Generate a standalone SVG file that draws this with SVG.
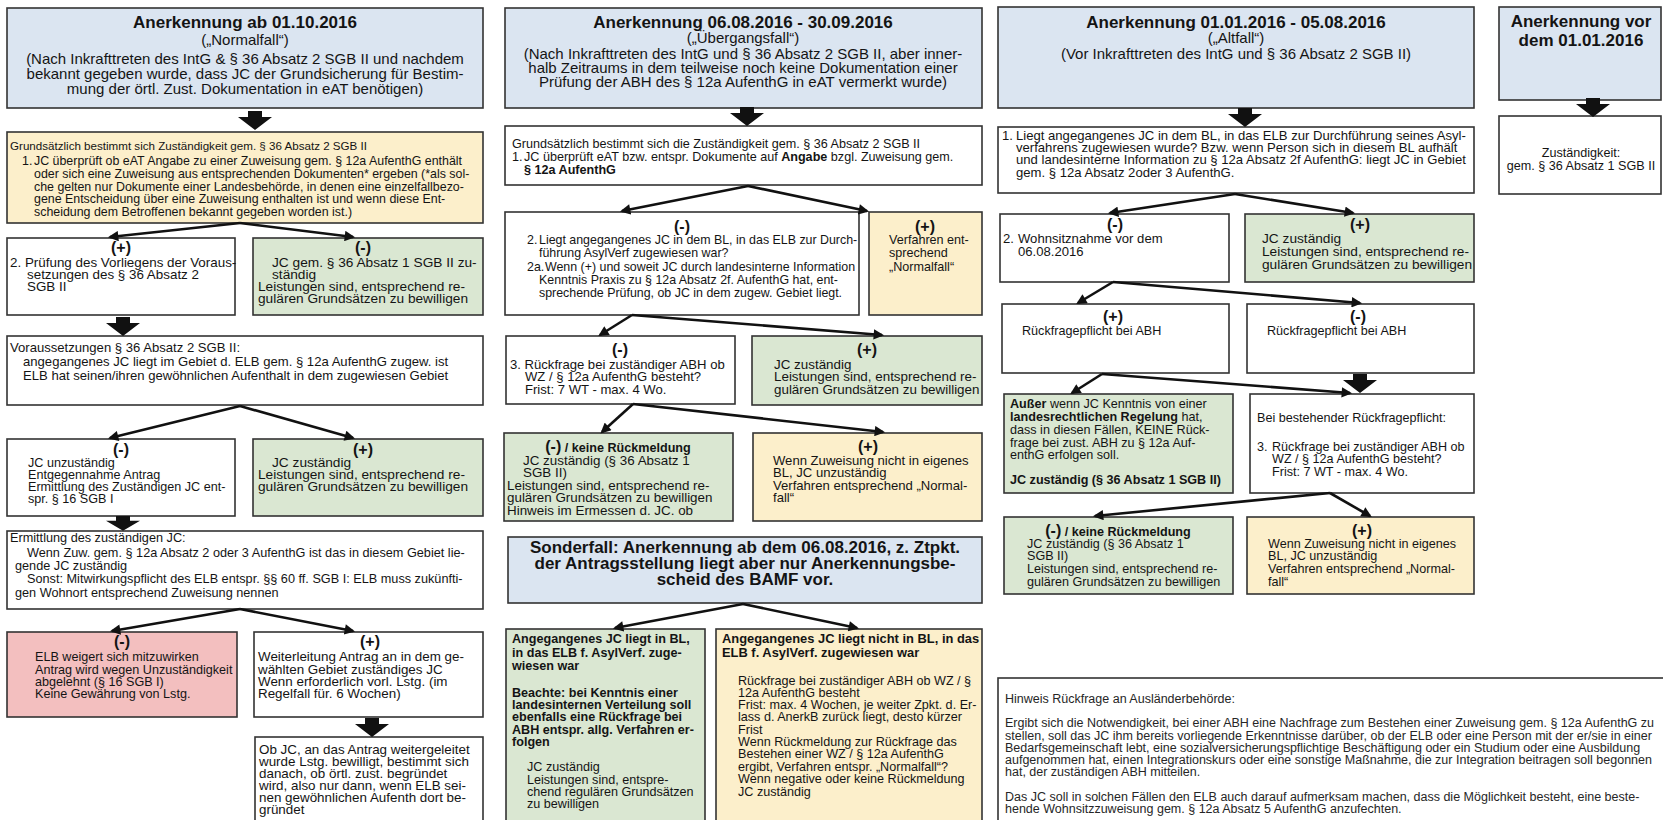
<svg xmlns="http://www.w3.org/2000/svg" width="1663" height="820" viewBox="0 0 1663 820">
<style>
text{font-family:"Liberation Sans",Arial,sans-serif;font-size:12.6px;fill:#141414}
.b{font-weight:bold}
.h{font-size:15px}
.ti{font-size:17px;font-weight:bold}
.s{font-size:16px;font-weight:bold}
.c{text-anchor:middle}
.f124{font-size:12.4px}
.f13{font-size:13.1px}
.f134{font-size:13.4px}
.f137{font-size:13.7px}
.box{stroke:#333;stroke-width:1.6}
.blue{fill:#dbe5f1}
.yel{fill:#fcefcb}
.grn{fill:#dae7d2}
.red{fill:#f3bfbf}
.wht{fill:#fff}
.con{stroke:#111;stroke-width:2.6;fill:none;marker-end:url(#ah)}
.fn{font-size:12.5px;fill:#262626}
</style>
<defs>
<marker id="ah" viewBox="0 0 10 10" refX="8" refY="5" markerWidth="4.4" markerHeight="4" orient="auto" markerUnits="strokeWidth"><path d="M0,0 L10,5 L0,10 z" fill="#111"/></marker>
<path id="big" d="M-7,0 H7 V6 H17 L0,19 L-17,6 H-7 Z" fill="#111"/>
</defs>
<rect width="1663" height="820" fill="#fff"/>

<!-- Column 1 -->
<g id="n1"><rect class="box blue" x="7" y="8" width="476" height="100"/>
<text class="ti c" x="245" y="28">Anerkennung ab 01.10.2016</text>
<text class="h c"><tspan x="245" y="45">(„Normalfall“)</tspan><tspan x="245" y="64">(Nach Inkrafttreten des IntG &amp; § 36 Absatz 2 SGB II und nachdem</tspan><tspan x="245" y="79">bekannt gegeben wurde, dass JC der Grundsicherung für Bestim-</tspan><tspan x="245" y="94">mung der örtl. Zust. Dokumentation in eAT benötigen)</tspan></text></g>

<g id="n2"><rect class="box yel" x="7" y="132" width="476" height="91"/>
<text style="font-size:11.6px" x="10" y="150">Grundsätzlich bestimmt sich Zuständigkeit gem. § 36 Absatz 2 SGB II</text>
<text class="f124"><tspan x="22" y="165">1.</tspan><tspan x="34" y="165">JC überprüft ob eAT Angabe zu einer Zuweisung gem. § 12a AufenthG enthält</tspan><tspan x="34" y="178">oder sich eine Zuweisung aus entsprechenden Dokumenten* ergeben (*als sol-</tspan><tspan x="34" y="191">che gelten nur Dokumente einer Landesbehörde, in denen eine einzelfallbezo-</tspan><tspan x="34" y="203">gene Entscheidung über eine Zuweisung enthalten ist und wenn diese Ent-</tspan><tspan x="34" y="216">scheidung dem Betroffenen bekannt gegeben worden ist.)</tspan></text></g>

<g id="n3"><rect class="box wht" x="7" y="238" width="228" height="77"/>
<text class="s c" x="121" y="253">(+)</text>
<text class="f134"><tspan x="10" y="267">2. Prüfung des Vorliegens der Voraus-</tspan><tspan x="27" y="279">setzungen des § 36 Absatz 2</tspan><tspan x="27" y="291">SGB II</tspan></text></g>

<g id="n4"><rect class="box grn" x="253" y="238" width="230" height="77"/>
<text class="s c" x="363" y="253">(-)</text>
<text class="f137"><tspan x="272" y="267">JC gem. § 36 Absatz 1 SGB II zu-</tspan><tspan x="272" y="279">ständig</tspan><tspan x="258" y="291">Leistungen sind, entsprechend re-</tspan><tspan x="258" y="303">gulären Grundsätzen zu bewilligen</tspan></text></g>

<g id="n5"><rect class="box wht" x="7" y="336" width="476" height="69"/>
<text class="f13"><tspan x="10" y="352">Voraussetzungen § 36 Absatz 2 SGB II:</tspan><tspan x="23" y="366">angegangenes JC liegt im Gebiet d. ELB gem. § 12a AufenthG zugew. ist</tspan><tspan x="23" y="380">ELB hat seinen/ihren gewöhnlichen Aufenthalt in dem zugewiesen Gebiet</tspan></text></g>

<g id="n6"><rect class="box wht" x="7" y="439" width="228" height="77"/>
<text class="s c" x="121" y="455">(-)</text>
<text><tspan x="28" y="467">JC unzuständig</tspan><tspan x="28" y="479">Entgegennahme Antrag</tspan><tspan x="28" y="491">Ermittlung des Zuständigen JC ent-</tspan><tspan x="28" y="503">spr. § 16 SGB I</tspan></text></g>

<g id="n7"><rect class="box grn" x="253" y="439" width="230" height="77"/>
<text class="s c" x="363" y="455">(+)</text>
<text class="f137"><tspan x="272" y="467">JC zuständig</tspan><tspan x="258" y="479">Leistungen sind, entsprechend re-</tspan><tspan x="258" y="491">gulären Grundsätzen zu bewilligen</tspan></text></g>

<g id="n8"><rect class="box wht" x="7" y="531" width="476" height="78"/>
<text style="font-size:12.7px"><tspan x="10" y="542">Ermittlung des zuständigen JC:</tspan><tspan x="27" y="557">Wenn Zuw. gem. § 12a Absatz 2 oder 3 AufenthG ist das in diesem Gebiet lie-</tspan><tspan x="15" y="570">gende JC zuständig</tspan><tspan x="27" y="583">Sonst: Mitwirkungspflicht des ELB entspr. §§ 60 ff. SGB I: ELB muss zukünfti-</tspan><tspan x="15" y="597">gen Wohnort entsprechend Zuweisung nennen</tspan></text></g>

<g id="n9"><rect class="box red" x="7" y="632" width="230" height="85"/>
<text class="s c" x="122" y="647">(-)</text>
<text><tspan x="35" y="661">ELB weigert sich mitzuwirken</tspan><tspan x="35" y="674">Antrag wird wegen Unzuständigkeit</tspan><tspan x="35" y="686">abgelehnt (§ 16 SGB I)</tspan><tspan x="35" y="698">Keine Gewährung von Lstg.</tspan></text></g>

<g id="n10"><rect class="box wht" x="254" y="632" width="229" height="85"/>
<text class="s c" x="370" y="647">(+)</text>
<text class="f134"><tspan x="258" y="661">Weiterleitung Antrag an in dem ge-</tspan><tspan x="258" y="674">wählten Gebiet zuständiges JC</tspan><tspan x="258" y="686">Wenn erforderlich vorl. Lstg. (im</tspan><tspan x="258" y="698">Regelfall für. 6 Wochen)</tspan></text></g>

<g id="n11"><rect class="box wht" x="255" y="737" width="228" height="100"/>
<text class="f134"><tspan x="259" y="754">Ob JC, an das Antrag weitergeleitet</tspan><tspan x="259" y="766">wurde Lstg. bewilligt, bestimmt sich</tspan><tspan x="259" y="778">danach, ob örtl. zust. begründet</tspan><tspan x="259" y="790">wird, also nur dann, wenn ELB sei-</tspan><tspan x="259" y="802">nen gewöhnlichen Aufenth dort be-</tspan><tspan x="259" y="814">gründet</tspan></text></g>

<!-- Column 2 -->
<g id="m1"><rect class="box blue" x="505" y="8" width="477" height="100"/>
<text class="ti c" x="743" y="28">Anerkennung 06.08.2016 - 30.09.2016</text>
<text class="h c"><tspan x="743" y="43">(„Übergangsfall“)</tspan><tspan x="743" y="59">(Nach Inkrafttreten des IntG und § 36 Absatz 2 SGB II, aber inner-</tspan><tspan x="743" y="73">halb Zeitraums in dem teilweise noch keine Dokumentation einer</tspan><tspan x="743" y="87">Prüfung der ABH des § 12a AufenthG in eAT vermerkt wurde)</tspan></text></g>

<g id="m2"><rect class="box wht" x="505" y="126" width="477" height="59"/>
<text x="512" y="148">Grundsätzlich bestimmt sich die Zuständigkeit gem. § 36 Absatz 2 SGB II</text>
<text x="512" y="161">1.</text>
<text x="524" y="161">JC überprüft eAT bzw. entspr. Dokumente auf <tspan class="b">Angabe</tspan> bzgl. Zuweisung gem.</text>
<text class="b" x="524" y="174">§ 12a AufenthG</text></g>

<g id="m3"><rect class="box wht" x="505" y="212" width="354" height="103"/>
<text class="s c" x="682" y="232">(-)</text>
<text style="font-size:12.4px"><tspan x="527" y="244">2.</tspan><tspan x="539" y="244">Liegt angegangenes JC in dem BL, in das ELB zur Durch-</tspan><tspan x="539" y="257">führung AsylVerf zugewiesen war?</tspan><tspan x="527" y="271">2a.</tspan><tspan x="545" y="271">Wenn (+) und soweit JC durch landesinterne Information</tspan><tspan x="539" y="284">Kenntnis Praxis zu § 12a Absatz 2f. AufenthG hat, ent-</tspan><tspan x="539" y="297">sprechende Prüfung, ob JC in dem zugew. Gebiet liegt.</tspan></text></g>

<g id="m4"><rect class="box yel" x="869" y="212" width="113" height="103"/>
<text class="s c" x="925" y="232">(+)</text>
<text><tspan x="889" y="244">Verfahren ent-</tspan><tspan x="889" y="257">sprechend</tspan><tspan x="889" y="271">„Normalfall“</tspan></text></g>

<g id="m5"><rect class="box wht" x="506" y="336" width="229" height="68"/>
<text class="s c" x="620" y="355">(-)</text>
<text class="f13"><tspan x="510" y="369">3. Rückfrage bei zuständiger ABH ob</tspan><tspan x="525" y="381">WZ / § 12a AufenthG besteht?</tspan><tspan x="525" y="394">Frist: 7 WT - max. 4 Wo.</tspan></text></g>

<g id="m6"><rect class="box grn" x="752" y="336" width="230" height="69"/>
<text class="s c" x="867" y="355">(+)</text>
<text class="f134"><tspan x="774" y="369">JC zuständig</tspan><tspan x="774" y="381">Leistungen sind, entsprechend re-</tspan><tspan x="774" y="394">gulären Grundsätzen zu bewilligen</tspan></text></g>

<g id="m7"><rect class="box grn" x="504" y="433" width="229" height="88"/>
<text class="c b" x="618" y="452"><tspan font-size="16">(-)</tspan> / keine Rückmeldung</text>
<text class="f134"><tspan x="523" y="465">JC zuständig (§ 36 Absatz 1</tspan><tspan x="523" y="477">SGB II)</tspan><tspan x="507" y="490">Leistungen sind, entsprechend re-</tspan><tspan x="507" y="502">gulären Grundsätzen zu bewilligen</tspan><tspan x="507" y="515">Hinweis im Ermessen d. JC. ob</tspan></text></g>

<g id="m8"><rect class="box yel" x="753" y="433" width="229" height="88"/>
<text class="s c" x="868" y="452">(+)</text>
<text class="f13"><tspan x="773" y="465">Wenn Zuweisung nicht in eigenes</tspan><tspan x="773" y="477">BL, JC unzuständig</tspan><tspan x="773" y="490">Verfahren entsprechend „Normal-</tspan><tspan x="773" y="502">fall“</tspan></text></g>

<g id="m9"><rect class="box blue" x="508" y="537" width="474" height="66"/>
<text class="ti c"><tspan x="745" y="553">Sonderfall: Anerkennung ab dem 06.08.2016, z. Ztpkt.</tspan><tspan x="745" y="569">der Antragsstellung liegt aber nur Anerkennungsbe-</tspan><tspan x="745" y="585">scheid des BAMF vor.</tspan></text></g>

<g id="m10"><rect class="box grn" x="506" y="629" width="199" height="210"/>
<text class="b"><tspan x="512" y="643">Angegangenes JC liegt in BL,</tspan><tspan x="512" y="657">in das ELB f. AsylVerf. zuge-</tspan><tspan x="512" y="670">wiesen war</tspan><tspan x="512" y="697">Beachte: bei Kenntnis einer</tspan><tspan x="512" y="709">landesinternen Verteilung soll</tspan><tspan x="512" y="721">ebenfalls eine Rückfrage bei</tspan><tspan x="512" y="734">ABH entspr. allg. Verfahren er-</tspan><tspan x="512" y="746">folgen</tspan></text>
<text><tspan x="527" y="771">JC zuständig</tspan><tspan x="527" y="784">Leistungen sind, entspre-</tspan><tspan x="527" y="796">chend regulären Grundsätzen</tspan><tspan x="527" y="808">zu bewilligen</tspan></text></g>

<g id="m11"><rect class="box yel" x="716" y="629" width="266" height="210"/>
<text class="b" style="font-size:12.9px"><tspan x="722" y="643">Angegangenes JC liegt nicht in BL, in das</tspan><tspan x="722" y="657">ELB f. AsylVerf. zugewiesen war</tspan></text>
<text><tspan x="738" y="685">Rückfrage bei zuständiger ABH ob WZ / §</tspan><tspan x="738" y="697">12a AufenthG besteht</tspan><tspan x="738" y="709">Frist: max. 4 Wochen, je weiter Zpkt. d. Er-</tspan><tspan x="738" y="721">lass d. AnerkB zurück liegt, desto kürzer</tspan><tspan x="738" y="734">Frist</tspan><tspan x="738" y="746">Wenn Rückmeldung zur Rückfrage das</tspan><tspan x="738" y="758">Bestehen einer WZ / § 12a AufenthG</tspan><tspan x="738" y="771">ergibt, Verfahren entspr. „Normalfall“?</tspan><tspan x="738" y="783">Wenn negative oder keine Rückmeldung</tspan><tspan x="738" y="796">JC zuständig</tspan></text></g>

<!-- Column 3 -->
<g id="k1"><rect class="box blue" x="998" y="7" width="476" height="101"/>
<text class="ti c" x="1236" y="28">Anerkennung 01.01.2016 - 05.08.2016</text>
<text class="h c"><tspan x="1236" y="43">(„Altfall“)</tspan><tspan x="1236" y="59">(Vor Inkrafttreten des IntG und § 36 Absatz 2 SGB II)</tspan></text></g>

<g id="k2"><rect class="box wht" x="998" y="127" width="476" height="66"/>
<text class="f13"><tspan x="1002" y="140">1.</tspan><tspan x="1016" y="140">Liegt angegangenes JC in dem BL, in das ELB zur Durchführung seines Asyl-</tspan><tspan x="1016" y="152">verfahrens zugewiesen wurde? Bzw. wenn Person sich in diesem BL aufhält</tspan><tspan x="1016" y="164">und landesinterne Information zu § 12a Absatz 2f AufenthG: liegt JC in Gebiet</tspan><tspan x="1016" y="177">gem. § 12a Absatz 2oder 3 AufenthG.</tspan></text></g>

<g id="k3"><rect class="box wht" x="1000" y="214" width="229" height="68"/>
<text class="s c" x="1115" y="230">(-)</text>
<text class="f13"><tspan x="1003" y="243">2.</tspan><tspan x="1018" y="243">Wohnsitznahme vor dem</tspan><tspan x="1018" y="256">06.08.2016</tspan></text></g>

<g id="k4"><rect class="box grn" x="1245" y="214" width="229" height="68"/>
<text class="s c" x="1360" y="230">(+)</text>
<text class="f137"><tspan x="1262" y="243">JC zuständig</tspan><tspan x="1262" y="256">Leistungen sind, entsprechend re-</tspan><tspan x="1262" y="269">gulären Grundsätzen zu bewilligen</tspan></text></g>

<g id="k5"><rect class="box wht" x="1002" y="304" width="227" height="69"/>
<text class="s c" x="1113" y="322">(+)</text>
<text x="1022" y="335">Rückfragepflicht bei ABH</text></g>

<g id="k6"><rect class="box wht" x="1247" y="304" width="227" height="69"/>
<text class="s c" x="1358" y="322">(-)</text>
<text x="1267" y="335">Rückfragepflicht bei ABH</text></g>

<g id="k7"><rect class="box grn" x="1004" y="394" width="229" height="99"/>
<text x="1010" y="408"><tspan class="b">Außer</tspan> wenn JC Kenntnis von einer</text>
<text x="1010" y="421"><tspan class="b">landesrechtlichen Regelung</tspan> hat,</text>
<text><tspan x="1010" y="434">dass in diesen Fällen, KEINE Rück-</tspan><tspan x="1010" y="447">frage bei zust. ABH zu § 12a Auf-</tspan><tspan x="1010" y="459">enthG erfolgen soll.</tspan></text>
<text class="b" x="1010" y="484">JC zuständig (§ 36 Absatz 1 SGB II)</text></g>

<g id="k8"><rect class="box wht" x="1250" y="394" width="224" height="99"/>
<text><tspan x="1257" y="422">Bei bestehender Rückfragepflicht:</tspan><tspan x="1257" y="451">3.</tspan><tspan x="1272" y="451">Rückfrage bei zuständiger ABH ob</tspan><tspan x="1272" y="463">WZ / § 12a AufenthG besteht?</tspan><tspan x="1272" y="476">Frist: 7 WT - max. 4 Wo.</tspan></text></g>

<g id="k9"><rect class="box grn" x="1004" y="517" width="229" height="77"/>
<text class="c b" x="1118" y="536"><tspan font-size="16">(-)</tspan> / keine Rückmeldung</text>
<text><tspan x="1027" y="548">JC zuständig (§ 36 Absatz 1</tspan><tspan x="1027" y="560">SGB II)</tspan><tspan x="1027" y="573">Leistungen sind, entsprechend re-</tspan><tspan x="1027" y="586">gulären Grundsätzen zu bewilligen</tspan></text></g>

<g id="k10"><rect class="box yel" x="1247" y="517" width="227" height="77"/>
<text class="s c" x="1362" y="536">(+)</text>
<text><tspan x="1268" y="548">Wenn Zuweisung nicht in eigenes</tspan><tspan x="1268" y="560">BL, JC unzuständig</tspan><tspan x="1268" y="573">Verfahren entsprechend „Normal-</tspan><tspan x="1268" y="586">fall“</tspan></text></g>

<g id="k11"><rect class="box wht" x="998" y="678" width="700" height="170"/>
<text class="fn"><tspan x="1005" y="703">Hinweis Rückfrage an Ausländerbehörde:</tspan><tspan x="1005" y="727">Ergibt sich die Notwendigkeit, bei einer ABH eine Nachfrage zum Bestehen einer Zuweisung gem. § 12a AufenthG zu</tspan><tspan x="1005" y="740">stellen, soll das JC ihm bereits vorliegende Erkenntnisse darüber, ob der ELB oder eine Person mit der er/sie in einer</tspan><tspan x="1005" y="752">Bedarfsgemeinschaft lebt, eine sozialversicherungspflichtige Beschäftigung oder ein Studium oder eine Ausbildung</tspan><tspan x="1005" y="764">aufgenommen hat, einen Integrationskurs oder eine sonstige Maßnahme, die zur Integration beitragen soll begonnen</tspan><tspan x="1005" y="776">hat, der zuständigen ABH mitteilen.</tspan><tspan x="1005" y="801">Das JC soll in solchen Fällen den ELB auch darauf aufmerksam machen, dass die Möglichkeit besteht, eine beste-</tspan><tspan x="1005" y="813">hende Wohnsitzzuweisung gem. § 12a Absatz 5 AufenthG anzufechten.</tspan></text></g>

<!-- Column 4 -->
<g id="l1"><rect class="box blue" x="1499" y="7" width="162" height="93"/>
<text class="ti c"><tspan x="1581" y="27">Anerkennung vor</tspan><tspan x="1581" y="46">dem 01.01.2016</tspan></text></g>

<g id="l2"><rect class="box wht" x="1499" y="116" width="162" height="78"/>
<text class="c"><tspan x="1581" y="157">Zuständigkeit:</tspan><tspan x="1581" y="170">gem. § 36 Absatz 1 SGB II</tspan></text></g>

<!-- Connectors -->
<g id="connectors">
<path class="con" d="M240,223 L110,237"/>
<path class="con" d="M240,223 L353,237"/>
<path class="con" d="M240,406 L110,438"/>
<path class="con" d="M240,406 L353,438"/>
<path class="con" d="M240,609 L112,631"/>
<path class="con" d="M240,609 L353,631"/>
<path class="con" d="M748,186 L622,211"/>
<path class="con" d="M748,186 L867,211"/>
<path class="con" d="M632,315 L600,335"/>
<path class="con" d="M632,315 L882,335"/>
<path class="con" d="M633,404 L602,432"/>
<path class="con" d="M633,404 L883,432"/>
<path class="con" d="M743,604 L615,628"/>
<path class="con" d="M743,604 L857,628"/>
<path class="con" d="M1235,194 L1110,213"/>
<path class="con" d="M1235,194 L1353,213"/>
<path class="con" d="M1113,282 L1078,303"/>
<path class="con" d="M1113,282 L1360,303"/>
<path class="con" d="M1102,374 L1072,393"/>
<path class="con" d="M1102,374 L1350,393"/>
<path class="con" d="M1330,493 L1095,516"/>
<path class="con" d="M1330,493 L1370,516"/>
<use href="#big" transform="translate(255,111)"/>
<use href="#big" transform="translate(123,317)"/>
<use href="#big" transform="translate(123,516) scale(1,0.78)"/>
<use href="#big" transform="translate(372,718)"/>
<use href="#big" transform="translate(747,107)"/>
<use href="#big" transform="translate(1245,108)"/>
<use href="#big" transform="translate(1360,374)"/>
<use href="#big" transform="translate(1593,98)"/>
</g>
</svg>
